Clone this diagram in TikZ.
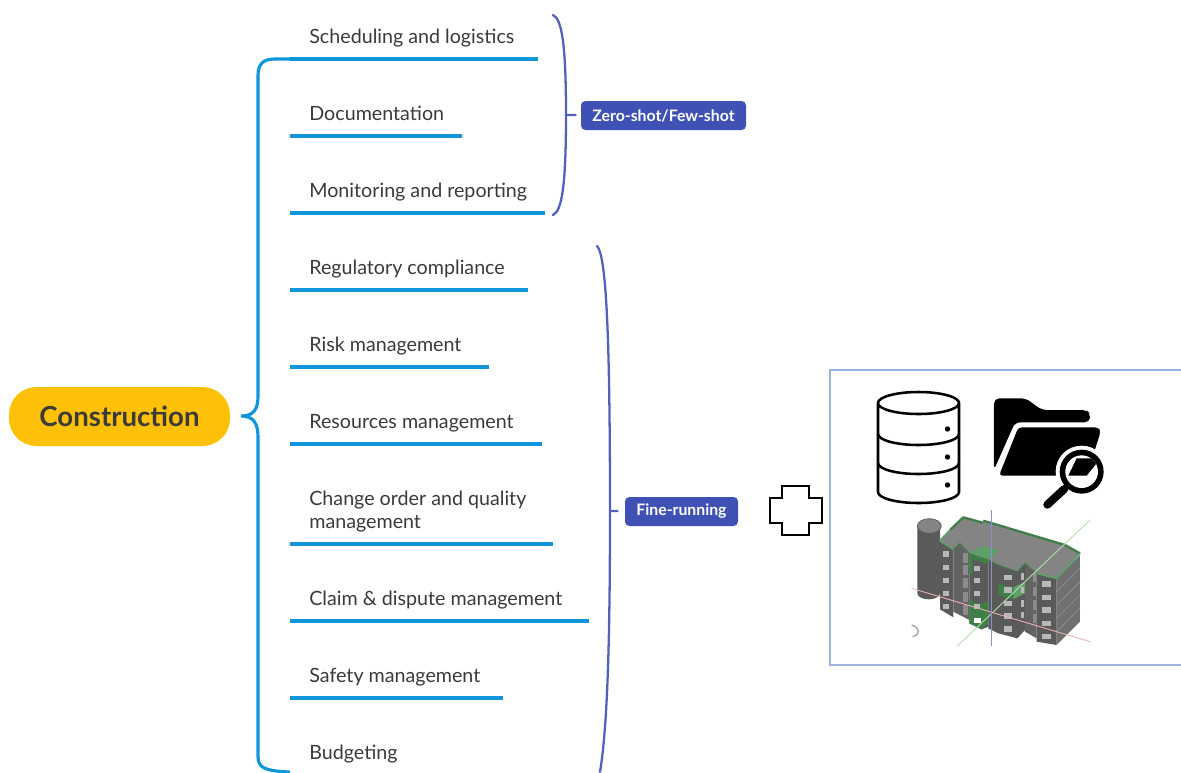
\documentclass[tikz,border=0pt]{standalone}
\usepackage{fontspec}
\setmainfont{Lato}
\definecolor{branchblue}{HTML}{1296DB}
\definecolor{badgeblue}{HTML}{3F51B5}
\definecolor{rootyellow}{HTML}{FFC107}
\definecolor{inktext}{HTML}{3A3A3A}
\definecolor{framecol}{HTML}{9DB2DC}
\definecolor{wallcol}{HTML}{5A5A5A}
\definecolor{recesscol}{HTML}{636363}
\definecolor{sidecol}{HTML}{707070}
\definecolor{roofcol}{HTML}{848484}
\definecolor{edgegreen}{HTML}{3F7F47}
\definecolor{patchgreen}{HTML}{5F9F68}
\definecolor{axisblue}{HTML}{8A8FD8}
\tikzset{
    rootnode/.style={fill=rootyellow, rounded corners=27.5*0.02cm, minimum width=221*0.02cm, minimum height=59*0.02cm,
        text=inktext, font=\fontsize{15.7}{18}\selectfont\bfseries},
    leafnode/.style={anchor=base west, align=left, inner sep=0pt, text=inktext, font=\fontsize{11.2}{13}\selectfont},
    branchline/.style={draw=branchblue, line width=1.8pt},
    bracketline/.style={draw=badgeblue!90!white, line width=1.3pt, line cap=round},
    badgenode/.style={fill=badgeblue, rounded corners=2.5pt, inner sep=0pt, text=white, font=\fontsize{9}{10}\selectfont\bfseries},
    iconline/.style={draw=black, line width=1.45pt},
    windowfill/.style={fill=black!28, draw=none},
}
\begin{document}
\begin{tikzpicture}[x=0.02cm, y=-0.02cm]
\useasboundingbox (0,0) rectangle (1181,772);

\node[rootnode] (construction) at (119.5,416.5) {Construction};

\coordinate (bracetip) at (241,416);
\coordinate (bracetop) at (290,59);
\coordinate (bracebottom) at (290,772);
\draw[branchline] (bracetop) -- (275,59) .. controls (263,59) and (258,64) .. (258,76) -- (258,396)
    .. controls (258,409) and (254,416) .. (bracetip) .. controls (254,416) and (258,424) .. (258,437)
    -- (258,756) .. controls (258,767) and (263,771) .. (bracebottom);

\foreach \ypos/\xend/\leafname/\leaftext in {
    43/538/scheduling/Scheduling and logistics,
    120/462/documentation/Documentation,
    197/545/monitoring/Monitoring and reporting,
    274/528/regulatory/Regulatory compliance,
    351/489/risk/Risk management,
    428/542/resources/Resources management,
    605/589/claim/Claim \& dispute management,
    682/503/safety/Safety management}
{
    \node[leafnode] (\leafname) at (309,\ypos) {\leaftext};
    \coordinate (\leafname start) at (290,\ypos+16);
    \coordinate (\leafname end) at (\xend,\ypos+16);
    \draw[branchline] (\leafname start) -- (\leafname end);
}
\node[leafnode] (change) at (309,528) {Change order and quality\\management};
\coordinate (change start) at (290,544);
\coordinate (change end) at (553,544);
\draw[branchline] (change start) -- (change end);
\node[leafnode] (budgeting) at (309,759) {Budgeting};

\node[badgenode, minimum width=165*0.02cm, minimum height=29*0.02cm] (zeroshot) at (663.5,115.5) {Zero-shot/Few-shot};
\node[badgenode, minimum width=113*0.02cm, minimum height=29*0.02cm] (finerunning) at (681.5,511.5) {Fine-running};

\coordinate (zerotop) at (553,15);
\coordinate (zerotick) at (566,115);
\coordinate (zerobottom) at (553,215);
\draw[bracketline] (zerotop) .. controls (562,19) and (566,45) .. (zerotick) .. controls (566,185) and (562,211) .. (zerobottom);
\draw[bracketline, shorten >=5*0.02cm] (zerotick) -- (zeroshot);

\coordinate (finetop) at (597,246);
\coordinate (finetick) at (610,511);
\coordinate (finebottom) at (600,772);
\draw[bracketline] (finetop) .. controls (606,255) and (610,330) .. (finetick) .. controls (610,650) and (607,730) .. (finebottom);
\draw[bracketline, shorten >=7*0.02cm] (finetick) -- (finerunning);

\draw[black, line width=0.65pt] (782,486) -- (809,486) -- (809,498) -- (822,498) -- (822,523) -- (809,523)
    -- (809,535) -- (782,535) -- (782,523) -- (770,523) -- (770,498) -- (782,498) -- cycle;

\draw[framecol, line width=0.65pt] (1181,370) -- (830,370) -- (830,665) -- (1181,665);

% database
\draw[iconline] (878,403) -- (878,492) arc[start angle=180, end angle=360, x radius=40.5, y radius=-11]
    -- (959,403) (918.5,403) ellipse[x radius=40.5, y radius=11];
\draw[iconline] (878,434) arc[start angle=180, end angle=360, x radius=40.5, y radius=-11];
\draw[iconline] (878,463) arc[start angle=180, end angle=360, x radius=40.5, y radius=-11];
\foreach \ydot in {429,457,485}
    \fill[black] (947.5,\ydot) circle[radius=2.7];

\begin{scope}[shift={(820,360)}, x=0.02cm/3, y=-0.02cm/3]
% folder
\fill[black, rounded corners=3pt] (522,330) -- (522,115) -- (618,115) -- (665,150) -- (800,150) -- (810,160) -- (810,187)
    -- (585,187) -- cycle;
\fill[black, rounded corners=2pt] (537,347) -- (595,202) -- (835,202) -- (842,215) -- (800,347) -- cycle;
\fill[white] (785,335) circle[radius=78];
\fill[black] (785,335) circle[radius=66];
\fill[white] (785,335) circle[radius=49];
\begin{scope}
\clip (785,335) circle[radius=49];
\fill[black] (745,347) -- (770,295) -- (842,295) -- (800,347) -- cycle;
\end{scope}
\draw[black, line width=4.6pt, line cap=round] (733,387) -- (682,434);
\end{scope}

\begin{scope}[shift={(910,510)}, x=0.02cm/3, y=-0.02cm/3]
% cylinder
\fill[wallcol] (22,48) -- (22,250) arc[start angle=180, end angle=360, x radius=34, y radius=-18] -- (90,48) -- cycle;
\fill[roofcol, draw=wallcol, line width=0.4pt] (58,48) ellipse[x radius=36, y radius=22];

% building
\fill[sidecol] (440,205) -- (510,135) -- (510,335) -- (440,405) -- cycle;
\fill[wallcol] (90,95) -- (130,118) -- (130,322) -- (90,298) -- cycle;
\fill[recesscol] (130,118) -- (150,100) -- (178,130) -- (178,330) -- (130,305) -- cycle;
\fill[wallcol] (178,130) -- (235,150) -- (235,350) -- (215,358) -- (178,340) -- cycle;
\fill[wallcol] (235,150) -- (265,165) -- (322,185) -- (345,160) -- (345,360) -- (322,385) -- (265,370) -- (235,355) -- cycle;
\fill[recesscol] (345,160) -- (380,190) -- (380,385) -- (345,365) -- cycle;
\fill[wallcol] (380,190) -- (440,205) -- (440,405) -- (380,395) -- cycle;
\draw[black!40, line width=0.3pt] (440,245) -- (510,175) (440,285) -- (510,215) (440,325) -- (510,255) (440,365) -- (510,295);
\fill[roofcol] (90,92) -- (120,60) -- (160,22) -- (218,38) -- (220,32) -- (465,105) -- (510,130)
    -- (440,205) -- (380,190) -- (345,160) -- (322,185) -- (265,165) -- (235,150) -- (178,130) -- (150,100) -- (130,118) -- cycle;
\draw[edgegreen, line width=1.3pt, line join=round] (120,60) -- (160,22) -- (218,38) (220,32) -- (465,105) -- (510,130);
\draw[patchgreen, line width=1pt, line join=round] (510,130) -- (440,205) -- (380,190) (120,60) -- (90,92) -- (130,118);
\draw[edgegreen, line width=0.5pt, line join=round] (380,190) -- (345,160) -- (322,185) -- (265,165) -- (235,150) -- (178,130) -- (150,100) -- (130,118);

% green patches
\fill[patchgreen] (178,128) -- (220,108) -- (268,122) -- (235,148) -- cycle;
\fill[edgegreen] (178,132) -- (235,150) -- (235,162) -- (178,145) -- cycle;
\fill[edgegreen] (178,145) -- (188,148) -- (188,195) -- (178,190) -- cycle;
\fill[edgegreen] (265,222) -- (310,232) -- (310,268) -- (265,255) -- cycle;
\fill[patchgreen] (310,232) -- (345,215) -- (345,250) -- (310,268) -- cycle;
\fill[edgegreen] (178,270) -- (205,282) -- (235,275) -- (235,340) -- (215,358) -- (178,340) -- cycle;

% windows
\foreach \ywin in {132,172,212,250,290}
    \fill[windowfill] (100,\ywin-8) rectangle (118,\ywin+8);
\foreach \ywin in {175,212,250,290}
    \fill[windowfill] (192,\ywin-7) rectangle (210,\ywin+7);
\foreach \ywin in {202,240,280,318,357}
    \fill[windowfill] (283,\ywin-8) rectangle (307,\ywin+8);
\foreach \ywin in {222,262,300,340,380}
    \fill[windowfill] (395,\ywin-8) rectangle (422,\ywin+8);
\foreach \ywin in {145,180,220,260,300}
    \fill[black!45] (160,\ywin-15) rectangle (174,\ywin+15);
\foreach \ywin in {200,240,280,315}
    \fill[windowfill] (332,\ywin-10) rectangle (343,\ywin+10);
\foreach \ywin in {203,245,285,325}
    \fill[black!45] (370,\ywin-14) rectangle (378,\ywin+14);
\fill[white] (192,325) rectangle (212,338);

% axes
\draw[green!60!black!30, line width=0.5pt] (142,408) -- (540,30);
\draw[red!70!black!30, line width=0.5pt] (5,235) -- (540,395);
\draw[axisblue, line width=0.8pt] (245,0) -- (245,408);
\draw[black!35, line width=0.8pt] (5,345) .. controls (28,352) and (35,372) .. (8,380);
\end{scope}
\end{tikzpicture}
\end{document}
